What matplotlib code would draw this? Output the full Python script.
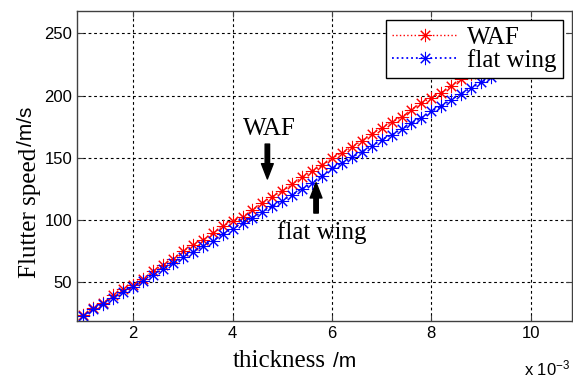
import matplotlib
matplotlib.use("Agg")
import matplotlib.pyplot as plt

plt.rcParams['font.family'] = ['Liberation Sans', 'DejaVu Sans']
plt.rcParams['mathtext.default'] = 'regular'

# thickness in units of 1e-3 m
thick = [1.0, 1.2, 1.4, 1.6, 1.8, 2.0, 2.2, 2.4, 2.6, 2.8,
         3.0, 3.2, 3.4, 3.6, 3.8, 4.0, 4.2, 4.4, 4.6, 4.8,
         5.0, 5.2, 5.4, 5.6, 5.8, 6.0, 6.2, 6.4, 6.6, 6.8,
         7.0, 7.2, 7.4, 7.6, 7.8, 8.0, 8.2, 8.4, 8.6, 8.8,
         9.0, 9.2]
waf = [23.4, 29.3, 33.3, 39.5, 44.4, 48.1, 53.0, 59.0, 63.7, 69.1,
       75.0, 80.0, 84.0, 89.3, 95.0, 99.0, 102.7, 108.0, 114.0, 118.8,
       123.4, 128.8, 134.5, 139.0, 144.0, 149.5, 154.0, 158.6, 163.7, 169.4,
       174.0, 178.5, 182.5, 188.7, 194.1, 198.1, 202.2, 208.0, 212.9, 217.5,
       222.0, 226.5]
flat = [22.8, 28.5, 32.5, 37.5, 42.5, 46.5, 51.0, 56.0, 61.0, 65.1,
        70.0, 74.4, 79.0, 83.3, 88.7, 93.0, 97.5, 102.0, 106.5, 111.0,
        115.5, 120.5, 125.0, 129.5, 135.5, 141.5, 145.7, 150.3, 155.0, 159.5,
        164.5, 168.5, 173.1, 177.9, 182.0, 187.3, 191.4, 196.8, 201.6, 206.2,
        210.7, 214.5]

xticks = [2, 4, 6, 8, 10]
yticks = [50, 100, 150, 200, 250]

serif = ['Liberation Serif', 'DejaVu Serif']
star = (8, 2, 0)  # matlab-style asterisk

fig = plt.figure(figsize=(5.73, 3.78), dpi=100)
ax = fig.add_axes([0.1344, 0.1508, 0.8639, 0.8201])

ax.plot(thick, waf, color='red', ls=':', lw=1, marker=star, ms=9.5, mew=0.75,
        label='WAF')
ax.plot(thick, flat, color='blue', ls=':', lw=1.3, marker=star, ms=9.5, mew=0.75,
        label='flat wing')

ax.set_xlim(0.87, 10.83)
ax.set_ylim(18.9, 267.9)
ax.set_xticks(xticks)
ax.set_yticks(yticks)
ax.tick_params(direction='in', top=True, right=True, labelsize=12, length=4,
               color='#404040')
ax.grid(True, ls=(0, (2.5, 2.5)), color='black', lw=0.8)
for s in ax.spines.values():
    s.set_color('#404040')
    s.set_linewidth(1)

# arrows + labels
ax.annotate('', xy=(4.7, 133), xytext=(4.7, 161),
            arrowprops=dict(facecolor='black', edgecolor='black', width=3.2,
                            headwidth=8.5, headlength=11, shrink=0))
ax.text(4.74, 173.4, 'WAF', ha='center', va='center', fontsize=18, family=serif)
ax.annotate('', xy=(5.68, 130), xytext=(5.68, 105.6),
            arrowprops=dict(facecolor='black', edgecolor='black', width=3.2,
                            headwidth=8.5, headlength=11, shrink=0))
ax.text(5.8, 90.3, 'flat wing', ha='center', va='center', fontsize=18, family=serif)

leg = ax.legend(loc='upper right', bbox_to_anchor=(0.982, 0.971), borderaxespad=0,
                prop={'family': serif, 'size': 18}, fancybox=False, framealpha=1,
                edgecolor='black', handlelength=2.6, handletextpad=0.4,
                labelspacing=0.0, borderpad=0.25, markerscale=1.0)
leg.get_frame().set_linewidth(1)

# axis labels (serif word + sans unit like the original)
fig.text(0.052, 0.61, 'Flutter speed', rotation=90, ha='center', va='top',
         fontsize=18, family=serif)
fig.text(0.047, 0.614, '/m/s', rotation=90, ha='center', va='bottom', fontsize=15)
fig.text(0.406, 0.03, 'thickness', ha='left', va='baseline', fontsize=18, family=serif)
fig.text(0.582, 0.03, '/m', ha='left', va='baseline', fontsize=15)
fig.text(0.915, 0.0, r'x 10$^{-3}$', ha='left', va='bottom', fontsize=12)

fig.savefig('out.png', dpi=100)
